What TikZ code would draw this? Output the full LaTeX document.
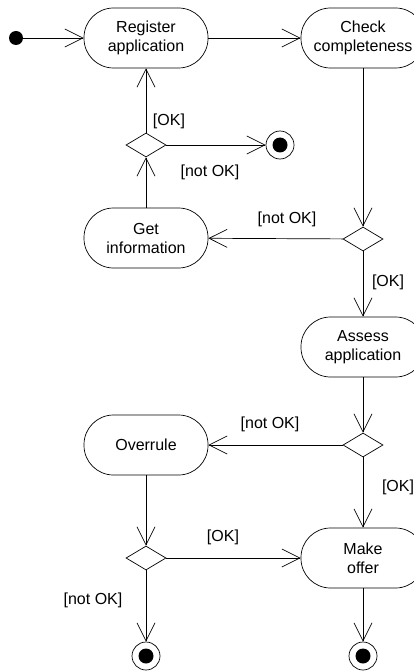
\documentclass[tikz,border=0pt]{standalone}
\usepackage{fontspec}
\setmainfont{Liberation Sans}
\usetikzlibrary{arrows.meta, shapes.geometric}

\begin{document}
\begin{tikzpicture}[x=1pt, y=-1pt, >={Straight Barb[length=18pt,width=18pt]}, line width=0.7pt,
    every node/.style={font=\fontsize{16}{19}\selectfont, align=center},
    action/.style={draw, rectangle, rounded corners=29.5pt, minimum width=124pt, minimum height=60pt, inner sep=2pt},
    decision/.style={draw, diamond, minimum width=40pt, minimum height=24pt, inner sep=0pt},
    final/.style={circle, draw, minimum size=28pt, inner sep=0pt,
        path picture={\fill (path picture bounding box.center) circle (7.5pt);}}]
\useasboundingbox (0,0) rectangle (414,671);

% Start
\node[circle,fill,minimum size=14pt,inner sep=0pt] at (16,38) (start) {};

% Actions
\node[action] at (146,38) (reg) {Register\\application};
\node[action] at (363,38) (chk) {Check\\completeness};
\node[action] at (146,238) (info) {Get\\information};
\node[action] at (363,347) (assess) {Assess\\application};
\node[action] at (146,445) (overrule) {Overrule};
\node[action] at (363,558) (offer) {Make\\offer};

% Decisions
\node[decision] at (146,145) (d1) {};
\node[decision] at (363,239) (d2) {};
\node[decision] at (363,445) (d3) {};
\node[decision] at (146,558) (d4) {};

% Ends
\node[final] at (280,145) (end1) {};
\node[final] at (146,656) (end2) {};
\node[final] at (363,656) (end3) {};

% Flows
\foreach \from/\to in {start/reg, reg/chk, chk/d2, d2/info, d2/assess, info/d1, d1/reg, d1/end1,
    assess/d3, d3/overrule, d3/offer, overrule/d4, d4/offer, d4/end2, offer/end3} {
    \draw[->] (\from) -- (\to);
}

% Guards
\node at (169,121) (g1) {[OK]};
\node at (210,172) (g2) {[not OK]};
\node at (287,219) (g3) {[not OK]};
\node at (388,282) (g4) {[OK]};
\node at (270,424) (g5) {[not OK]};
\node at (398,487) (g6) {[OK]};
\node at (223,537) (g7) {[OK]};
\node at (93,600) (g8) {[not OK]};
\end{tikzpicture}
\end{document}
